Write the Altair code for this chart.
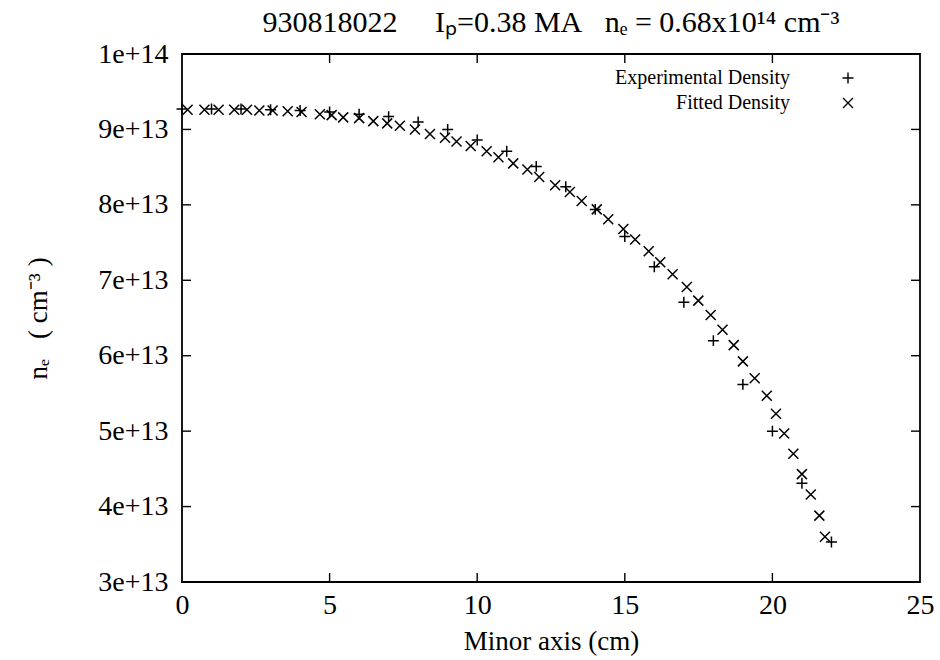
import altair as alt
import pandas as pd

# ---------------- data ----------------
exp_x = [0, 1, 2, 3, 4, 5, 6, 7, 8, 9, 10, 11, 12, 13, 14, 15, 16, 17, 18, 19, 20, 21, 22]
exp_y = [9.27e13, 9.27e13, 9.27e13, 9.26e13, 9.25e13, 9.23e13, 9.20e13, 9.17e13, 9.10e13,
         9.00e13, 8.86e13, 8.71e13, 8.51e13, 8.24e13, 7.94e13, 7.58e13, 7.18e13, 6.71e13,
         6.20e13, 5.62e13, 5.00e13, 4.31e13, 3.53e13]

fit_x = [0.19, 0.76, 1.24, 1.77, 2.20, 2.62, 3.07, 3.58, 4.05, 4.67, 5.07, 5.46, 6.00, 6.48,
         6.95, 7.38, 7.89, 8.40, 8.91, 9.30, 9.78, 10.32, 10.72, 11.22, 11.70, 12.10, 12.64,
         13.14, 13.54, 14.05, 14.44, 14.95, 15.35, 15.81, 16.20, 16.62, 17.10, 17.49, 17.91,
         18.31, 18.69, 19.00, 19.40, 19.81, 20.12, 20.40, 20.71, 21.00, 21.30, 21.59, 21.78]
fit_y = [9.26e13, 9.26e13, 9.26e13, 9.26e13, 9.26e13, 9.25e13, 9.25e13, 9.24e13, 9.23e13,
         9.20e13, 9.19e13, 9.16e13, 9.15e13, 9.11e13, 9.08e13, 9.05e13, 9.00e13, 8.94e13,
         8.89e13, 8.84e13, 8.78e13, 8.71e13, 8.63e13, 8.55e13, 8.47e13, 8.37e13, 8.26e13,
         8.17e13, 8.05e13, 7.94e13, 7.81e13, 7.68e13, 7.54e13, 7.385e13, 7.24e13, 7.08e13,
         6.91e13, 6.73e13, 6.54e13, 6.345e13, 6.14e13, 5.925e13, 5.70e13, 5.47e13, 5.23e13,
         4.97e13, 4.70e13, 4.43e13, 4.16e13, 3.88e13, 3.60e13]

x_labels = [0, 5, 10, 15, 20, 25]
y_labels = [3e13, 4e13, 5e13, 6e13, 7e13, 8e13, 9e13, 1e14]
x_inner_ticks = [5, 10, 15, 20]
y_inner_ticks = [4e13, 5e13, 6e13, 7e13, 8e13, 9e13]

legend_labels = ["Experimental Density", "Fitted Density"]

NB = "\u00a0"
title_text = "930818022" + NB * 5 + "Iₚ=0.38 MA" + NB * 3 + "nₑ = 0.68x10¹⁴ cm⁻³"
x_title = "Minor axis (cm)"
y_title = "nₑ" + NB * 3 + "(" + NB + "cm⁻³" + NB + ")"

# ---------------- styling ----------------
FONT = "Liberation Serif"
W, H = 738, 528
TICK = 9
PLUS = "M-1,0L1,0M0,-1L0,1"
CROSS = "M-1,-1L1,1M-1,1L1,-1"

x_scale = alt.Scale(domain=[0, 25], nice=False, zero=False)
y_scale = alt.Scale(domain=[3e13, 1e14], nice=False, zero=False)

x_axis = alt.Axis(values=x_labels, title=x_title, format="d", labelFlush=False,
                  labelPadding=9, titlePadding=9)
y_axis = alt.Axis(values=y_labels, format=".0e", title=y_title, labelFlush=False,
                  labelPadding=14, titlePadding=45)


def X():
    return alt.X("minor:Q", scale=x_scale, axis=x_axis)


def Y():
    return alt.Y("density:Q", scale=y_scale, axis=y_axis)


exp_df = pd.DataFrame({"minor": exp_x, "density": exp_y})
fit_df = pd.DataFrame({"minor": fit_x, "density": fit_y})

exp_layer = alt.Chart(exp_df).mark_point(
    shape=PLUS, filled=False, color="black", strokeWidth=1.5, size=120, opacity=1
).encode(x=X(), y=Y())

fit_layer = alt.Chart(fit_df).mark_point(
    shape=CROSS, filled=False, color="black", strokeWidth=1.5, size=100, opacity=1
).encode(x=X(), y=Y())

xt_df = pd.DataFrame({"minor": x_inner_ticks})
yt_df = pd.DataFrame({"density": y_inner_ticks})

rule_style = dict(color="black", strokeWidth=1.4)
bottom_ticks = alt.Chart(xt_df).mark_rule(**rule_style).encode(
    x=X(), y=alt.value(H), y2=alt.value(H - TICK))
top_ticks = alt.Chart(xt_df).mark_rule(**rule_style).encode(
    x=X(), y=alt.value(0), y2=alt.value(TICK))
left_ticks = alt.Chart(yt_df).mark_rule(**rule_style).encode(
    y=Y(), x=alt.value(0), x2=alt.value(TICK))
right_ticks = alt.Chart(yt_df).mark_rule(**rule_style).encode(
    y=Y(), x=alt.value(W), x2=alt.value(W - TICK))

# legend (inside plot, top right: label then symbol)
leg1 = pd.DataFrame({"label": [legend_labels[0]]})
leg2 = pd.DataFrame({"label": [legend_labels[1]]})
LEG_TEXT_X, LEG_SYM_X, LEG_Y1, LEG_Y2 = 608, 666, 24, 49
leg_text1 = alt.Chart(leg1).mark_text(align="right", baseline="middle", font=FONT,
                                      fontSize=20, color="black").encode(
    x=alt.value(LEG_TEXT_X), y=alt.value(LEG_Y1), text="label:N")
leg_text2 = alt.Chart(leg2).mark_text(align="right", baseline="middle", font=FONT,
                                      fontSize=20, color="black").encode(
    x=alt.value(LEG_TEXT_X), y=alt.value(LEG_Y2), text="label:N")
leg_sym1 = alt.Chart(leg1).mark_point(shape=PLUS, filled=False, color="black",
                                      strokeWidth=1.4, size=120, opacity=1).encode(
    x=alt.value(LEG_SYM_X), y=alt.value(LEG_Y1))
leg_sym2 = alt.Chart(leg2).mark_point(shape=CROSS, filled=False, color="black",
                                      strokeWidth=1.4, size=100, opacity=1).encode(
    x=alt.value(LEG_SYM_X), y=alt.value(LEG_Y2))

chart = alt.layer(
    exp_layer, fit_layer, bottom_ticks, top_ticks, left_ticks, right_ticks,
    leg_text1, leg_text2, leg_sym1, leg_sym2,
).properties(
    width=W, height=H,
    autosize="none",
    background="white",
    padding={"left": 182, "top": 54, "right": 20, "bottom": 78},
    title=alt.TitleParams(title_text, font=FONT, fontSize=30, fontWeight="normal",
                          color="black", anchor="middle", offset=2),
).configure_view(
    stroke="black", strokeWidth=1.8
).configure_axis(
    domain=False, ticks=False, grid=False,
    labelFont=FONT, labelFontSize=28, labelColor="black",
    titleFont=FONT, titleFontSize=27, titleFontWeight="normal", titleColor="black",
)

chart.save("out.html", embed_options={"renderer": "svg", "actions": False})
